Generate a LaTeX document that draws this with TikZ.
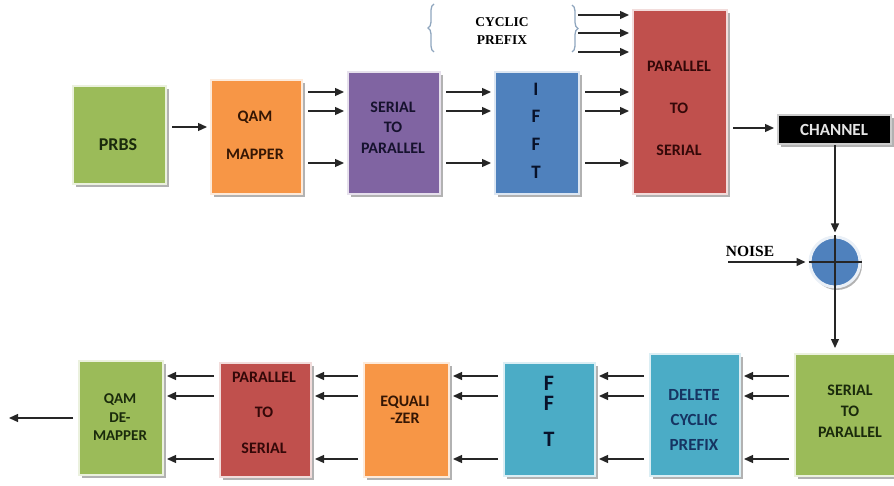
\documentclass[tikz,border=0pt]{standalone}
\usepackage{fontspec}
\setmainfont{Carlito}
\newfontfamily\serifb{Liberation Serif}
\usetikzlibrary{arrows.meta,shadows,decorations.pathreplacing,calc}
\definecolor{cgreen}{HTML}{9BBB59}
\definecolor{corange}{HTML}{F79646}
\definecolor{cpurple}{HTML}{8064A2}
\definecolor{cblue}{HTML}{4F81BD}
\definecolor{cred}{HTML}{C0504D}
\definecolor{cteal}{HTML}{4BACC6}
\definecolor{tgreen}{HTML}{1A2A0C}
\definecolor{torange}{HTML}{341604}
\definecolor{tpurple}{HTML}{16122E}
\definecolor{tblue}{HTML}{08122A}
\definecolor{tred}{HTML}{340808}
\definecolor{tteal}{HTML}{163462}
\definecolor{cbrace}{HTML}{8FA6BE}
\begin{document}
\begin{tikzpicture}[x=1pt,y=-1pt,
  box/.style={draw=#1!20, line width=2pt, fill=#1, inner sep=0pt, anchor=north west,
    drop shadow={shadow xshift=3pt, shadow yshift=-3pt, fill=black, opacity=0.3}},
  lbl/.style={align=center, inner sep=0pt, font=\bfseries},
  arr/.style={draw=black!85, line width=1.3pt, -{Triangle[length=9pt,width=8pt]},
    shorten <=5pt, shorten >=3pt},
  plain/.style={draw=black!85, line width=1.3pt},
  serlbl/.style={align=center, inner sep=0pt, font=\serifb\bfseries}
]
\useasboundingbox (0,0) rectangle (894,486);
\clip (0,0) rectangle (894,486);
% ---------- top row boxes ----------
\node[box=cgreen,  minimum width=93pt, minimum height=98pt]  (prbs) at (72,85) {};
\node[box=corange, minimum width=91pt, minimum height=114pt] (qam)  at (210,79) {};
\node[box=cpurple, minimum width=92pt, minimum height=122pt] (s2p)  at (347,71) {};
\node[box=cblue,   minimum width=84pt, minimum height=122pt] (ifft) at (494,71) {};
\node[box=cred,    minimum width=94pt, minimum height=184pt] (p2s)  at (632,9) {};
\node[box=black,   minimum width=113pt, minimum height=29pt] (chan) at (777,114) {};
% ---------- bottom row boxes ----------
\node[box=cgreen,  minimum width=112pt, minimum height=122pt] (s2pb) at (794,353) {};
\node[box=cteal,   minimum width=90pt, minimum height=122pt]  (del)  at (649,353) {};
\node[box=cteal,   minimum width=91pt, minimum height=113pt]  (fft)  at (503,362) {};
\node[box=corange, minimum width=85pt, minimum height=114pt]  (eq)   at (363,362) {};
\node[box=cred,    minimum width=91pt, minimum height=114pt]  (p2sb) at (219,362) {};
\node[box=cgreen,  minimum width=84pt, minimum height=114pt]  (qamd) at (78,360) {};
% ---------- labels ----------
\node[lbl, text=tgreen, font=\bfseries\fontsize{18}{20}\selectfont] (prbst) at (118,145) {PRBS};
\node[lbl, text=torange, font=\bfseries\fontsize{16}{38}\selectfont] (qamt) at (255,135) {QAM\\MAPPER};
\node[lbl, text=tpurple, font=\bfseries\fontsize{16}{20.5}\selectfont] (s2pt) at (393,127.5) {SERIAL\\TO\\PARALLEL};
\node[lbl, text=tblue, font=\bfseries\fontsize{19}{27.7}\selectfont] (ifftt) at (536,130.5) {I\\F\\F\\T};
\node[lbl, text=tred, font=\bfseries\fontsize{16}{42}\selectfont] (p2st) at (679,108) {PARALLEL\\TO\\SERIAL};
\node[lbl, text=black!10, font=\bfseries\fontsize{17}{20}\selectfont] (chant) at (834,130) {CHANNEL};
\node[lbl, text=tgreen, font=\bfseries\fontsize{16}{21}\selectfont] (s2pbt) at (850,411) {SERIAL\\TO\\PARALLEL};
\node[lbl, text=tteal, font=\bfseries\fontsize{17}{25}\selectfont] (delt) at (694,420) {DELETE\\CYCLIC\\PREFIX};
\node[lbl, text=tblue, font=\bfseries\fontsize{22}{20}\selectfont] (fftt) at (549,411) {F\\F\\[16pt]T};
\node[lbl, text=torange, font=\bfseries\fontsize{16}{17.5}\selectfont] (eqt) at (405,410) {EQUALI\\-ZER};
\node[lbl, text=tred, font=\bfseries\fontsize{16}{35.5}\selectfont] (p2sbt) at (264,412.5) {PARALLEL\\TO\\SERIAL};
\node[lbl, text=tgreen, font=\bfseries\fontsize{15}{18.5}\selectfont] (qamdt) at (120,417.5) {QAM\\DE-\\MAPPER};
% ---------- cyclic prefix ----------
\node[serlbl, font=\serifb\bfseries\fontsize{13.5}{18}\selectfont] (cp) at (502,31) {CYCLIC\\PREFIX};
\draw[cbrace, line width=1.3pt, decorate, decoration={brace, amplitude=6pt}] (434,52) -- (434,4);
\draw[cbrace, line width=1.3pt, decorate, decoration={brace, amplitude=6pt}] (572,5) -- (572,52);
\coordinate (cp1) at (578,15);
\coordinate (cp2) at (578,33);
\coordinate (cp3) at (578,52);
\foreach \c in {cp1,cp2,cp3}
  \draw[arr, shorten <=0pt] (\c) -- (p2s.west |- \c);
% ---------- top connectors ----------
\draw[arr] (prbs.east |- 0,127) -- (qam.west |- 0,127);
\foreach \yy in {92,111,163} {
  \draw[arr] (qam.east |- 0,\yy) -- (s2p.west |- 0,\yy);
  \draw[arr] (s2p.east |- 0,\yy) -- (ifft.west |- 0,\yy);
  \draw[arr] (ifft.east |- 0,\yy) -- (p2s.west |- 0,\yy);
}
\draw[arr] (p2s.east |- 0,128) -- (chan.west |- 0,128);
% ---------- summing junction ----------
\node[circle, minimum size=50pt, inner sep=0pt, fill=cblue, draw=cblue!12, line width=3pt,
  drop shadow={shadow xshift=2pt, shadow yshift=-3pt, fill=black, opacity=0.3}] (sum) at (835,262) {};
\node[serlbl, font=\serifb\bfseries\fontsize{15.5}{18}\selectfont] (noise) at (750,251) {NOISE};
\coordinate (nz) at (728,262);
\draw[arr, shorten <=0pt, shorten >=3pt] (sum |- chan.south) -- (sum.north);
\draw[arr, shorten <=0pt, shorten >=3pt] (nz) -- (sum.west);
\draw[plain] (sum.west) -- (sum.east);
\draw[plain] (sum.north) -- (sum.south);
\draw[arr, shorten <=0pt, shorten >=5pt] (sum.south) -- (sum |- s2pb.north);
% ---------- bottom connectors ----------
\foreach \yy in {376,396,459} {
  \draw[arr] (s2pb.west |- 0,\yy) -- (del.east |- 0,\yy);
  \draw[arr] (del.west |- 0,\yy) -- (fft.east |- 0,\yy);
  \draw[arr] (fft.west |- 0,\yy) -- (eq.east |- 0,\yy);
  \draw[arr] (eq.west |- 0,\yy) -- (p2sb.east |- 0,\yy);
  \draw[arr] (p2sb.west |- 0,\yy) -- (qamd.east |- 0,\yy);
}
\coordinate (out) at (9,418);
\draw[arr, shorten >=0pt] (qamd.west |- out) -- (out);
\end{tikzpicture}
\end{document}
